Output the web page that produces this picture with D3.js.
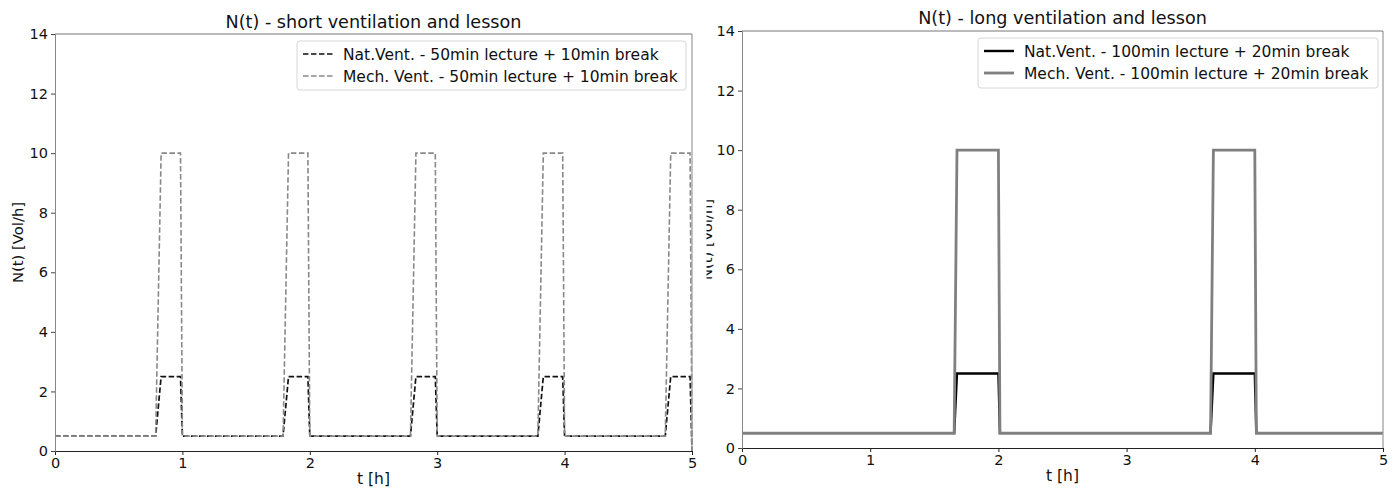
<!DOCTYPE html>
<html>
<head>
<meta charset="utf-8">
<script src="https://cdn.jsdelivr.net/npm/d3@7"></script>
<style>
  html, body { margin: 0; padding: 0; background: #fff; }
  svg { display: block; font-family: "DejaVu Sans", sans-serif; }
</style>
</head>
<body>
<svg id="chart" width="1398" height="491"></svg>
<script>
// Time axis ticks and value ticks shared by both panels
const xTicks = [0, 1, 2, 3, 4, 5];
const yTicks = [0, 2, 4, 6, 8, 10, 12, 14];

// Short cycle: 50 min lecture + 10 min break (time in hours)
const shortT    = [0, 0.79, 0.833, 0.985, 1.0, 1.79, 1.833, 1.985, 2.0, 2.79, 2.833, 2.985, 3.0, 3.79, 3.833, 3.985, 4.0, 4.79, 4.833, 4.985, 5.0];
const shortNat  = [0.5, 0.5, 2.5, 2.5, 0.5, 0.5, 2.5, 2.5, 0.5, 0.5, 2.5, 2.5, 0.5, 0.5, 2.5, 2.5, 0.5, 0.5, 2.5, 2.5, 0];
const shortMech = [0.5, 0.5, 10, 10, 0.5, 0.5, 10, 10, 0.5, 0.5, 10, 10, 0.5, 0.5, 10, 10, 0.5, 0.5, 10, 10, 0];

// Long cycle: 100 min lecture + 20 min break
const longT    = [0, 1.655, 1.677, 2.0, 2.012, 3.655, 3.677, 4.0, 4.012, 5.0];
const longNat  = [0.5, 0.5, 2.5, 2.5, 0.5, 0.5, 2.5, 2.5, 0.5, 0.5];
const longMech = [0.5, 0.5, 10, 10, 0.5, 0.5, 10, 10, 0.5, 0.5];

const svg = d3.select("#chart");

const panels = [
  {
    id: "short",
    left: 55, right: 692, top: 34, bottom: 451,
    title: "N(t) - short ventilation and lesson", titleY: 28,
    xLabelY: 484,
    yLabelX: 23, yLabelClip: null,
    t: shortT,
    series: [
      { name: "Nat.Vent. - 50min lecture + 10min break", values: shortNat, color: "#111", width: 1.7, dash: "5.5,2.5" },
      { name: "Mech. Vent. - 50min lecture + 10min break", values: shortMech, color: "#888", width: 1.6, dash: "5.5,2.5" }
    ],
    legend: { x: 297, y: 41, w: 389, h: 49 }
  },
  {
    id: "long",
    left: 742, right: 1383, top: 31, bottom: 448,
    title: "N(t) - long ventilation and lesson", titleY: 24,
    xLabelY: 481,
    yLabelX: 712, yLabelClip: 706.5,
    t: longT,
    series: [
      { name: "Nat.Vent. - 100min lecture + 20min break", values: longNat, color: "#000", width: 2.4, dash: null },
      { name: "Mech. Vent. - 100min lecture + 20min break", values: longMech, color: "#808080", width: 2.8, dash: null }
    ],
    legend: { x: 978, y: 38, w: 400, h: 50 }
  }
];

panels.forEach(p => {
  const x = d3.scaleLinear().domain([0, 5]).range([p.left, p.right]);
  const y = d3.scaleLinear().domain([0, 14]).range([p.bottom, p.top]);
  const g = svg.append("g");

  // clip region for the lines
  const clipId = "clip-" + p.id;
  svg.append("clipPath").attr("id", clipId)
    .append("rect")
    .attr("x", p.left).attr("y", p.top - 2)
    .attr("width", p.right - p.left + 1).attr("height", p.bottom - p.top + 3);

  const line = d3.line()
    .x(d => x(d[0]))
    .y(d => y(d[1]));

  p.series.forEach(s => {
    const pts = p.t.map((t, i) => [t, s.values[i]]);
    g.append("path")
      .attr("clip-path", `url(#${clipId})`)
      .attr("d", line(pts))
      .attr("fill", "none")
      .attr("stroke", s.color)
      .attr("stroke-width", s.width)
      .attr("stroke-dasharray", s.dash)
      .attr("stroke-linejoin", "miter");
  });

  // frame
  g.append("line").attr("x1", p.left).attr("x2", p.right).attr("y1", p.top).attr("y2", p.top)
    .attr("stroke", "#777").attr("stroke-width", 1);
  g.append("line").attr("x1", p.right).attr("x2", p.right).attr("y1", p.top).attr("y2", p.bottom)
    .attr("stroke", "#999").attr("stroke-width", 1.2);

  // axes
  const xAxis = g.append("g").attr("transform", `translate(0,${p.bottom})`)
    .call(d3.axisBottom(x).tickValues(xTicks).tickFormat(d3.format("d")).tickSizeOuter(0).tickSize(4).tickPadding(3));
  xAxis.select(".domain").attr("stroke", "#222");
  xAxis.selectAll(".tick line").attr("stroke", "#222");
  xAxis.selectAll("text").attr("font-size", 14.5).attr("fill", "#111").attr("font-family", "DejaVu Sans");

  const yAxis = g.append("g").attr("transform", `translate(${p.left},0)`)
    .call(d3.axisLeft(y).tickValues(yTicks).tickFormat(d3.format("d")).tickSizeOuter(0).tickSize(4).tickPadding(3));
  yAxis.select(".domain").attr("stroke", "#888");
  yAxis.selectAll(".tick line").attr("stroke", "#444");
  yAxis.selectAll("text").attr("font-size", 14.5).attr("fill", "#111").attr("font-family", "DejaVu Sans");

  // title
  g.append("text").attr("x", (p.left + p.right) / 2).attr("y", p.titleY)
    .attr("text-anchor", "middle").attr("font-size", 17.6).attr("fill", "#111")
    .text(p.title);

  // x label
  g.append("text").attr("x", (p.left + p.right) / 2).attr("y", p.xLabelY)
    .attr("text-anchor", "middle").attr("font-size", 15.5).attr("fill", "#111")
    .text("t [h]");

  // y label (wrapped in a group so a clip can be applied in page coordinates)
  const ylg = g.append("g");
  ylg.append("text")
    .attr("transform", `translate(${p.yLabelX},${(p.top + p.bottom) / 2}) rotate(-90)`)
    .attr("text-anchor", "middle").attr("font-size", 14.8).attr("fill", "#111")
    .text("N(t) [Vol/h]");
  if (p.yLabelClip !== null) {
    const lid = "ylab-" + p.id;
    svg.append("clipPath").attr("id", lid)
      .append("rect").attr("x", p.yLabelClip).attr("y", 0).attr("width", 30).attr("height", 491);
    ylg.attr("clip-path", `url(#${lid})`);
  }

  // legend
  const L = p.legend;
  const lg = g.append("g");
  lg.append("rect").attr("x", L.x).attr("y", L.y).attr("width", L.w).attr("height", L.h)
    .attr("rx", 3).attr("fill", "#fff").attr("fill-opacity", 0.85)
    .attr("stroke", "#d6d6d6").attr("stroke-width", 1);
  p.series.forEach((s, i) => {
    const cy = L.y + 13 + i * 22;
    lg.append("line").attr("x1", L.x + 6).attr("x2", L.x + 36).attr("y1", cy).attr("y2", cy)
      .attr("stroke", s.color).attr("stroke-width", s.width)
      .attr("stroke-dasharray", s.dash);
    lg.append("text").attr("x", L.x + 46).attr("y", cy + 5.5)
      .attr("font-size", 15.5).attr("fill", "#111").text(s.name);
  });
});
</script>
</body>
</html>
